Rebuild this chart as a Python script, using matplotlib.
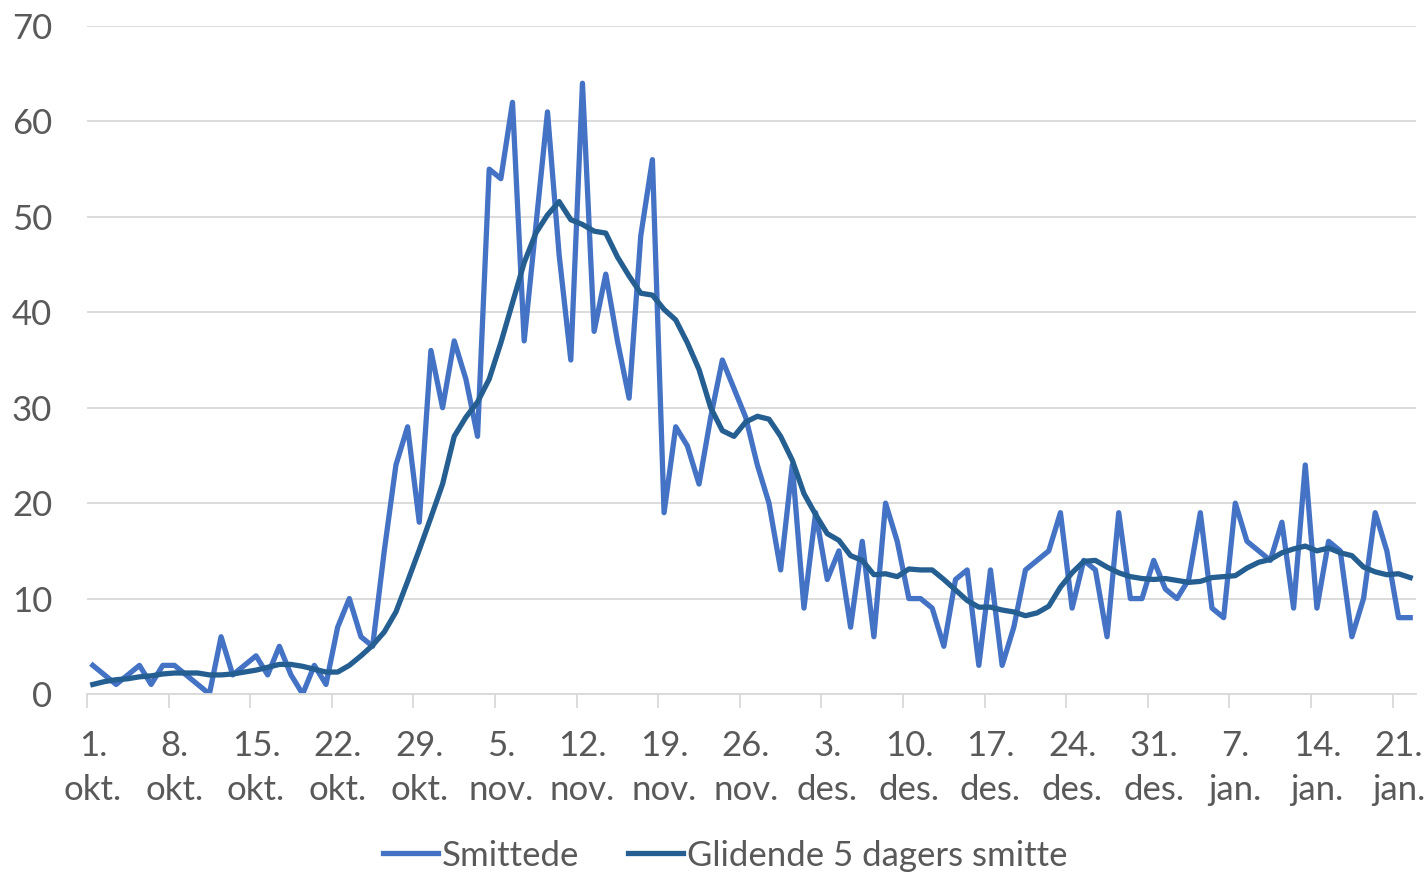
import matplotlib.pyplot as plt

# daily cases, 1. okt - 22. jan
smittede = [3, 2, 1, 2, 3, 1, 3, 3, 2, 1, 0, 6, 2, 3, 4, 2, 5, 2, 0, 3,
            1, 7, 10, 6, 5, 15, 24, 28, 18, 36, 30, 37, 33, 27, 55, 54, 62, 37, 49, 61,
            46, 35, 64, 38, 44, 37, 31, 48, 56, 19, 28, 26, 22, 29, 35, 32, 29, 24, 20, 13,
            24, 9, 19, 12, 15, 7, 16, 6, 20, 16, 10, 10, 9, 5, 12, 13, 3, 13, 3, 7,
            13, 14, 15, 19, 9, 14, 13, 6, 19, 10, 10, 14, 11, 10, 12, 19, 9, 8, 20, 16,
            15, 14, 18, 9, 24, 9, 16, 15, 6, 10, 19, 15, 8, 8]

# 5-day moving average
glidende = [1.0, 1.3, 1.5, 1.6, 1.8, 1.9, 2.1, 2.2, 2.2, 2.2, 2.0, 2.0, 2.1, 2.3, 2.5, 2.8, 3.1, 3.1, 2.9, 2.6,
            2.3, 2.3, 3.0, 4.0, 5.1, 6.5, 8.6, 11.8, 15.1, 18.5, 22.0, 27.0, 29.0, 30.6, 33.0, 36.8, 41.0, 45.2, 48.3, 50.2,
            51.6, 49.7, 49.2, 48.5, 48.3, 45.8, 43.8, 42.0, 41.8, 40.3, 39.2, 36.8, 34.0, 30.0, 27.6, 27.0, 28.5, 29.1, 28.8, 27.0,
            24.5, 21.0, 18.8, 16.8, 16.1, 14.5, 14.0, 12.5, 12.6, 12.3, 13.1, 13.0, 13.0, 12.0, 10.9, 9.8, 9.1, 9.1, 8.8, 8.6,
            8.2, 8.5, 9.2, 11.2, 12.7, 13.9, 14.0, 13.3, 12.7, 12.3, 12.1, 12.0, 12.1, 11.9, 11.7, 11.8, 12.2, 12.3, 12.4, 13.2,
            13.8, 14.1, 14.8, 15.2, 15.5, 15.0, 15.3, 14.8, 14.5, 13.3, 12.8, 12.5, 12.6, 12.2]

tick_labels = ["1.\nokt.", "8.\nokt.", "15.\nokt.", "22.\nokt.", "29.\nokt.",
               "5.\nnov.", "12.\nnov.", "19.\nnov.", "26.\nnov.",
               "3.\ndes.", "10.\ndes.", "17.\ndes.", "24.\ndes.", "31.\ndes.",
               "7.\njan.", "14.\njan.", "21.\njan."]

plt.rcParams['font.family'] = ['Lato', 'DejaVu Sans']
grey = "#595959"

fig = plt.figure(figsize=(14.27, 8.73), dpi=100)
ax = fig.add_axes([87 / 1427, (873 - 694) / 873, (1416 - 87) / 1427, (694 - 26) / 873])

days = list(range(len(smittede)))
ax.plot(days, smittede, color="#4472C4", lw=3.8, label="Smittede", solid_joinstyle="round")
ax.plot(days, glidende, color="#255E91", lw=3.8, label="Glidende 5 dagers smitte", solid_joinstyle="round")

ax.set_xlim(-0.5, len(days) - 0.5)
ax.set_ylim(0, 70)
ax.set_yticks(range(0, 71, 10))
ax.yaxis.grid(True, color="#D9D9D9", lw=1.3)
ax.set_axisbelow(True)

# labels at category centres, tick marks on category boundaries
ax.set_xticks(range(0, len(days), 7))
ax.set_xticklabels(tick_labels, linespacing=1.45)
ax.set_xticks([i - 0.5 for i in range(0, len(days), 7)], minor=True)
ax.tick_params(axis="x", which="major", length=0, pad=26, labelsize=25, labelcolor=grey)
ax.tick_params(axis="x", which="minor", length=10, width=1.3, color="#D9D9D9")
ax.tick_params(axis="y", length=0, pad=25, labelsize=25, labelcolor=grey)

for s in ["top", "right", "left"]:
    ax.spines[s].set_visible(False)
ax.spines["bottom"].set_color("#D9D9D9")
ax.spines["bottom"].set_linewidth(1.3)

fig.legend(loc="center", bbox_to_anchor=(0.508, 0.02), ncol=2, frameon=False,
           fontsize=25, labelcolor=grey, handlelength=1.6, handletextpad=0.1,
           columnspacing=1.4)

fig.savefig("out.png", dpi=100)
